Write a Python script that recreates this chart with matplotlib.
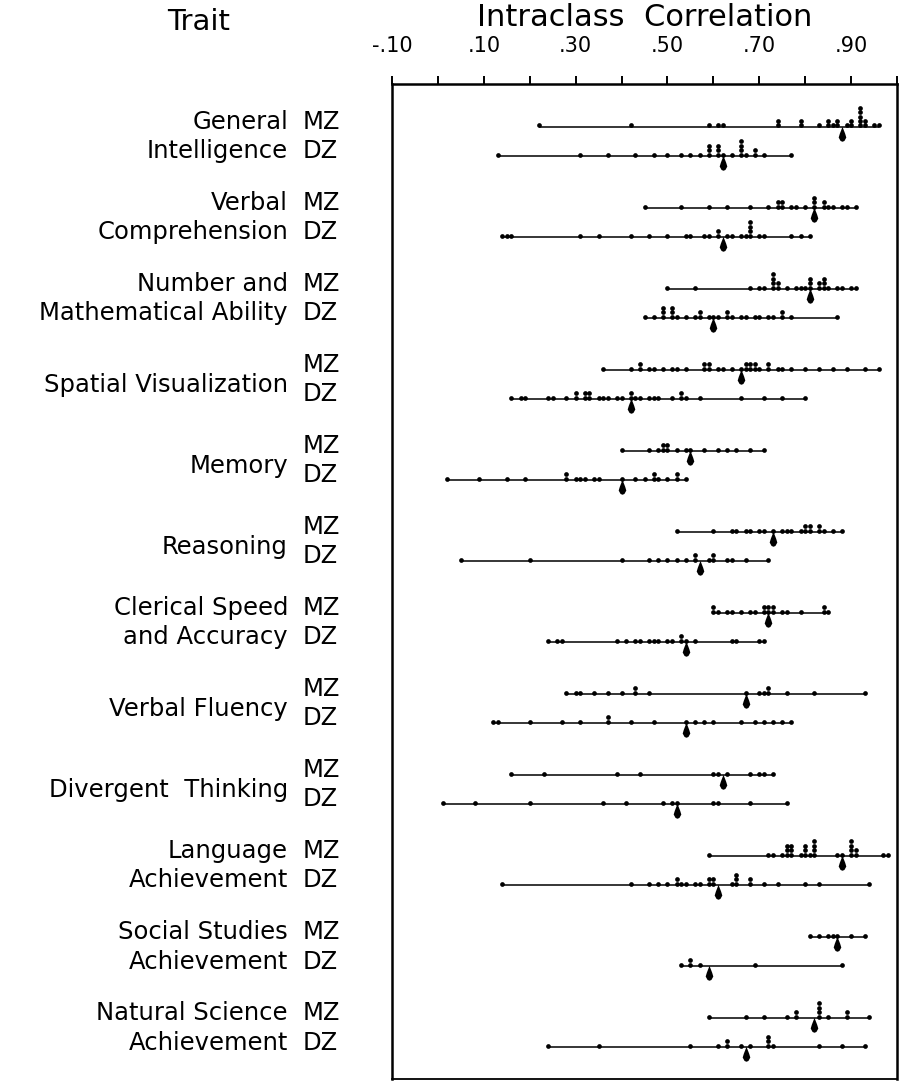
import numpy as np
import matplotlib.pyplot as plt
from matplotlib.path import Path
from matplotlib.transforms import blended_transform_factory

# trait names, one entry per printed line
traits = [
    ["General", "Intelligence"],
    ["Verbal", "Comprehension"],
    ["Number and", "Mathematical Ability"],
    ["Spatial Visualization"],
    ["Memory"],
    ["Reasoning"],
    ["Clerical Speed", "and Accuracy"],
    ["Verbal Fluency"],
    ["Divergent  Thinking"],
    ["Language", "Achievement"],
    ["Social Studies", "Achievement"],
    ["Natural Science", "Achievement"],
]

# intraclass correlations of the individual studies (repeats are stacked)
gi_mz = [.22, .42, .59, .61, .62, .74, .74, .79, .79, .83, .85, .85, .86, .87, .87, .89,
         .90, .90, .92, .92, .92, .92, .92, .93, .93, .95, .96]
gi_dz = [.13, .31, .37, .43, .47, .50, .53, .55, .57, .59, .59, .59, .61, .61, .61, .62,
         .64, .66, .66, .66, .66, .67, .69, .69, .71, .77]
vc_mz = [.45, .53, .59, .63, .68, .72, .74, .74, .75, .75, .77, .78, .80, .82, .82, .82,
         .84, .84, .85, .86, .88, .89, .91]
vc_dz = [.14, .15, .16, .31, .35, .42, .46, .50, .54, .55, .58, .59, .61, .61, .63, .64,
         .66, .67, .68, .68, .68, .68, .70, .71, .77, .79, .81]
nm_mz = [.50, .56, .68, .70, .71, .73, .73, .73, .73, .74, .74, .76, .78, .79, .80, .81,
         .81, .81, .83, .83, .84, .84, .84, .85, .87, .88, .90, .91]
nm_dz = [.45, .47, .49, .49, .49, .51, .51, .51, .52, .54, .56, .57, .57, .59, .60, .61,
         .63, .63, .64, .66, .67, .69, .70, .72, .73, .75, .75, .77, .87]
sv_mz = [.36, .42, .44, .44, .46, .47, .49, .51, .52, .54, .58, .58, .59, .59, .61, .62,
         .64, .66, .67, .67, .68, .68, .69, .69, .70, .72, .72, .74, .75, .77, .80, .83,
         .86, .89, .93, .96]
sv_dz = [.16, .18, .19, .24, .25, .28, .30, .30, .32, .32, .33, .33, .35, .36, .37, .39,
         .40, .42, .42, .43, .44, .46, .47, .48, .51, .53, .53, .54, .57, .66, .71, .75, .80]
me_mz = [.40, .46, .48, .49, .49, .50, .50, .52, .54, .55, .58, .61, .63, .65, .68, .71]
me_dz = [.02, .09, .15, .19, .28, .28, .30, .31, .32, .34, .35, .40, .43, .45, .47, .47,
         .48, .50, .52, .52, .54]
re_mz = [.52, .60, .64, .65, .67, .68, .70, .71, .73, .75, .76, .77, .79, .80, .80, .81,
         .81, .83, .83, .84, .86, .88]
re_dz = [.05, .20, .40, .46, .48, .50, .52, .54, .56, .56, .59, .60, .60, .63, .64, .67, .72]
cs_mz = [.60, .60, .61, .63, .64, .66, .68, .69, .71, .71, .72, .72, .73, .73, .75, .76,
         .79, .84, .84, .85]
cs_dz = [.24, .26, .27, .39, .41, .43, .44, .46, .47, .48, .50, .51, .53, .53, .54, .56,
         .64, .65, .70, .71]
vf_mz = [.28, .30, .31, .34, .37, .40, .43, .43, .46, .67, .70, .71, .72, .72, .76, .82, .93]
vf_dz = [.12, .13, .20, .27, .31, .37, .37, .42, .47, .54, .56, .58, .60, .66, .69, .71,
         .73, .75, .77]
dt_mz = [.16, .23, .39, .44, .60, .61, .63, .68, .70, .71, .73]
dt_dz = [.01, .08, .20, .36, .41, .49, .51, .52, .60, .61, .68, .76]
la_mz = [.59, .72, .73, .75, .76, .76, .76, .77, .77, .77, .79, .80, .80, .80, .81, .82,
         .82, .82, .82, .87, .88, .90, .90, .90, .90, .91, .91, .97, .98]
la_dz = [.14, .42, .46, .48, .50, .52, .52, .53, .54, .56, .57, .59, .59, .60, .60, .64,
         .65, .65, .65, .68, .68, .71, .74, .80, .83, .94]
ss_mz = [.81, .83, .85, .86, .87, .90, .93]
ss_dz = [.53, .55, .55, .57, .69, .88]
ns_mz = [.59, .67, .71, .76, .78, .78, .83, .83, .83, .83, .85, .89, .89, .94]
ns_dz = [.24, .35, .55, .61, .63, .63, .66, .68, .72, .72, .72, .73, .83, .88, .93]

mz_rows = [gi_mz, vc_mz, nm_mz, sv_mz, me_mz, re_mz, cs_mz, vf_mz, dt_mz, la_mz, ss_mz, ns_mz]
dz_rows = [gi_dz, vc_dz, nm_dz, sv_dz, me_dz, re_dz, cs_dz, vf_dz, dt_dz, la_dz, ss_dz, ns_dz]

# medians marked by the arrows
mz_median = [.88, .82, .81, .66, .55, .73, .72, .67, .62, .88, .87, .82]
dz_median = [.62, .62, .60, .42, .40, .57, .54, .54, .52, .61, .59, .67]

tick_vals = [-.10, 0, .10, .20, .30, .40, .50, .60, .70, .80, .90, 1.00]
tick_text = ["-.10", "", ".10", "", ".30", "", ".50", "", ".70", "", ".90", ""]

W, H = 909, 1083
fig = plt.figure(figsize=(W / 100, H / 100), dpi=100)
ax = fig.add_axes([392 / W, 1 - 1079 / H, (897 - 392) / W, (1079 - 84) / H])

DZ_GAP = 0.36
DOT_DY = 0.055

# teardrop-shaped arrow pointing up at the median
arrow = Path([(0, 1.0), (-0.35, 0.1), (-0.5, -0.4), (-0.25, -0.85), (0, -0.95),
              (0.25, -0.85), (0.5, -0.4), (0.35, 0.1), (0, 1.0)])


def draw_row(vals, med, y):
    ax.plot([min(vals), max(vals)], [y, y], color="black", lw=1.1, solid_capstyle="butt")
    seen = {}
    xs, ys = [], []
    for v in vals:
        k = seen.get(v, 0)
        seen[v] = k + 1
        xs.append(v)
        ys.append(y - 0.018 - k * DOT_DY)
    ax.plot(xs, ys, "o", color="black", ms=3.4, mew=0)
    ax.plot([med], [y + 0.085], marker=arrow, color="black", ms=11, mew=0, ls="none")


for i in range(len(traits)):
    draw_row(mz_rows[i], mz_median[i], i)
    draw_row(dz_rows[i], dz_median[i], i + DZ_GAP)

ax.set_xlim(-0.10, 1.00)
ax.set_ylim(11.75, -0.53)
ax.set_yticks([])
ax.xaxis.tick_top()
ax.set_xticks(tick_vals)
ax.set_xticklabels(tick_text, fontsize=15)
ax.tick_params(axis="x", direction="out", length=6, width=1.4, pad=14)
for side in ["top", "left", "right"]:
    ax.spines[side].set_linewidth(1.8)
ax.spines["bottom"].set_linewidth(1.3)

# row labels on the left
LBL = 17.5
tr = blended_transform_factory(fig.transFigure, ax.transData)
for i, name in enumerate(traits):
    if len(name) == 2:
        fig.text(288 / W, i - 0.06, name[0], transform=tr, ha="right", va="center", fontsize=LBL)
        fig.text(288 / W, i + DZ_GAP - 0.06, name[1], transform=tr, ha="right", va="center", fontsize=LBL)
    else:
        fig.text(288 / W, i + DZ_GAP / 2, name[0], transform=tr, ha="right", va="center", fontsize=LBL)
    fig.text(303 / W, i - 0.06, "MZ", transform=tr, ha="left", va="center", fontsize=LBL)
    fig.text(303 / W, i + DZ_GAP - 0.06, "DZ", transform=tr, ha="left", va="center", fontsize=LBL)

fig.text(199 / W, 1 - 22 / H, "Trait", ha="center", va="center", fontsize=21)
fig.text(645 / W, 1 - 18 / H, "Intraclass  Correlation", ha="center", va="center", fontsize=22)

fig.savefig("out.png", dpi=100)
